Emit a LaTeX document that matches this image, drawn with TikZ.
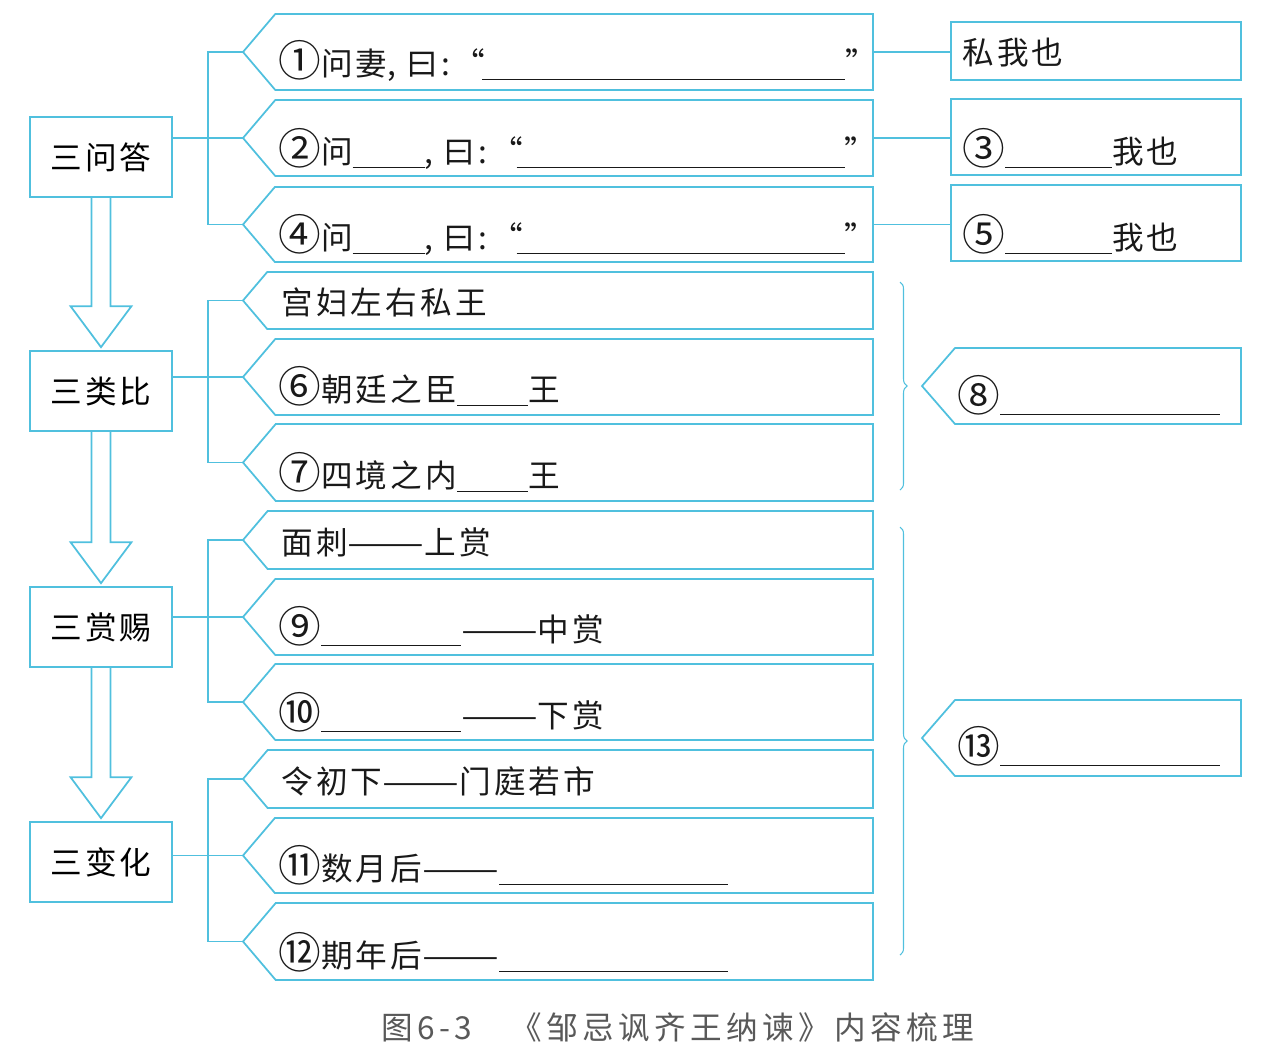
\documentclass[tikz,border=0pt]{standalone}
\usepackage{graphicx}
\usepackage{fontspec}
\setmainfont{Noto Sans CJK SC}[LetterSpace=10]
\usetikzlibrary{calc,decorations.pathreplacing}
\definecolor{lineblue}{RGB}{80,192,222}
\newlength\pxu
\setlength\pxu{0.02cm}
\newcommand\blank[1]{\rule[-2.8pt]{#1\pxu}{0.7pt}}
\newcommand\cma{\makebox[0.6em][l]{,}}
\newcommand\cln{\makebox[0.5em][c]{:}}
\newcommand\cnum[1]{\raisebox{-0.05em}{\scalebox{1.35}{#1}}}
\newcommand\dd{{\addfontfeature{LetterSpace=0}\scalebox{1.45}[1]{——}}}
\begin{document}
\begin{tikzpicture}[x=0.02cm,y=-0.02cm,font=\fontsize{18}{22}\selectfont,
  line/.style={draw=lineblue,line width=1pt},
  headbox/.style={line,minimum width=2.84cm,minimum height=1.6cm,inner sep=0pt},
  txt/.style={anchor=base west,inner sep=0pt,text=black!90}]
  \useasboundingbox (0,0) rectangle (1278,1046);
  % left column
  \node[headbox] (qa) at (101,157) {三问答};
  \node[headbox] (lb) at (101,391) {三类比};
  \node[headbox] (sc) at (101,627) {三赏赐};
  \node[headbox] (bh) at (101,862) {三变化};
  \foreach \a/\b in {qa/lb,lb/sc,sc/bh}
    \draw[line] ($(\a.south)+(-9.5,0)$) -- ($(\b.north)+(-9.5,-44)$) -- ++(-21,0)
      -- ($(\b.north)+(0,-3)$) -- ($(\b.north)+(30.5,-44)$) -- ++(-21,0) -- ($(\a.south)+(9.5,0)$);
  % middle column
  \foreach \t/\b/\n in {14/90/m1,100/176/m2,187/262/m3,272/329/m4,339/415/m5,424/501/m6,
      511/569/m7,579/655/m8,664/740/m9,750/808/m10,818/893/m11,903/980/m12} {
    \draw[line] (873,\t) -- ({243+0.85*(\b-\t)/2},\t) -- (243,{(\t+\b)/2})
      -- ({243+0.85*(\b-\t)/2},\b) -- (873,\b) -- cycle;
    \coordinate (\n) at (243,{(\t+\b)/2});
    \coordinate (\n-e) at (873,{(\t+\b)/2});
  }
  \node[txt] (t1) at (278,75) {\makebox[204\pxu][l]{\cnum{①}问妻\cma 曰\cln“}\blank{363}”};
  \node[txt] (t2) at (278,163) {\cnum{②}问\blank{72}\makebox[92\pxu][l]{\cma 曰\cln“}\blank{328}”};
  \node[txt] (t3) at (278,249) {\cnum{④}问\blank{72}\makebox[92\pxu][l]{\cma 曰\cln“}\blank{328}”};
  \node[txt] (t4) at (281,314) {宫妇左右私王};
  \node[txt] (t5) at (278,401) {\cnum{⑥}朝廷之臣\blank{71}王};
  \node[txt] (t6) at (278,487) {\cnum{⑦}四境之内\blank{71}王};
  \node[txt] (t7) at (281,554) {面刺\dd 上赏};
  \node[txt] (t8) at (278,641) {\cnum{⑨}\blank{140}\dd 中赏};
  \node[txt] (t9) at (278,727) {\cnum{⑩}\blank{140}\dd 下赏};
  \node[txt] (t10) at (281,793) {令初下\dd 门庭若市};
  \node[txt] (t11) at (278,880) {\cnum{⑪}数月后\dd\blank{229}};
  \node[txt] (t12) at (278,967) {\cnum{⑫}期年后\dd\blank{229}};
  \draw[line] (m1) -- ++(-35,0) |- (m3);
  \draw[line] (m4) -- ++(-35,0) |- (m6);
  \draw[line] (m7) -- ++(-35,0) |- (m9);
  \draw[line] (m10) -- ++(-35,0) |- (m12);
  \draw[line] (qa.east |- m2) -- (m2);
  \draw[line] (lb.east |- m5) -- (m5);
  \draw[line] (sc.east |- m8) -- (m8);
  \draw[line] (bh.east |- m11) -- (m11);
  % right column
  \node[line,minimum width=5.8cm,minimum height=1.16cm] (r1) at (1096,51) {};
  \node[line,minimum width=5.8cm,minimum height=1.52cm] (r2) at (1096,137) {};
  \node[line,minimum width=5.8cm,minimum height=1.52cm] (r3) at (1096,223) {};
  \node[txt] (s1) at (962,64) {私我也};
  \node[txt] (s2) at (962,163) {\cnum{③}\blank{107}我也};
  \node[txt] (s3) at (962,249) {\cnum{⑤}\blank{107}我也};
  \draw[line] (m1-e) -- (m1-e -| r1.west);
  \draw[line] (m2-e) -- (m2-e -| r2.west);
  \draw[line] (m3-e) -- (m3-e -| r3.west);
  \foreach \t/\b/\n in {348/424/k1,700/776/k2} {
    \draw[line] (1241,\t) -- (955,\t) -- (922,{(\t+\b)/2}) -- (955,\b) -- (1241,\b) -- cycle;
    \coordinate (\n) at (922,{(\t+\b)/2});
  }
  \node[txt] (s4) at (957,410) {\cnum{⑧}\blank{220}};
  \node[txt] (s5) at (957,761) {\cnum{⑬}\blank{220}};
  % braces
  \draw[lineblue,line width=0.6pt,decorate,decoration={brace,amplitude=4pt}] (900,282) -- (900,490);
  \draw[lineblue,line width=0.6pt,decorate,decoration={brace,amplitude=4pt}] (900,527) -- (900,955);
  % caption
  \node[text=black!65,font=\fontsize{18}{22}\selectfont\addfontfeature{LetterSpace=14}] (cap) at (678,1027)
    {图6-3\hspace{1.2em}《邹忌讽齐王纳谏》内容梳理};
\end{tikzpicture}
\end{document}
